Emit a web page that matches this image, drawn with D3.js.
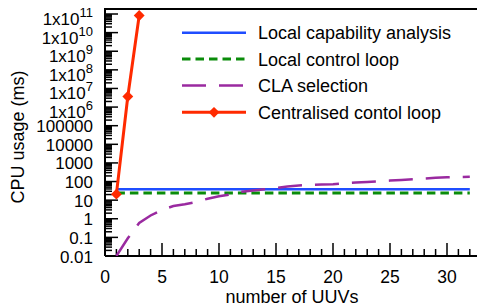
<!DOCTYPE html>
<html><head><meta charset="utf-8">
<script src="https://cdn.jsdelivr.net/npm/d3@7"></script>
<style>body{margin:0;background:#fff}svg{display:block}text{font-family:"Liberation Sans",Arial,sans-serif;fill:#000}</style>
</head><body><svg id="c" width="477" height="307"></svg>
<script>
const uuvs = d3.range(1, 33);
const localCapability = uuvs.map(() => 39);
const localControl = uuvs.map(() => 24);
const claSelection = [0.01,0.09,0.6,1.5,3,4.8,6,8,12,16,20,28,33,38,45,54,62,66,69,72,80,88,95,102,112,122,132,145,158,168,175,180];
const centralisedX = [1, 2, 3];
const centralised = [21, 3.7e6, 8.3e10];
const seriesNames = ["Local capability analysis","Local control loop","CLA selection","Centralised contol loop"];
const xTicks = [0,5,10,15,20,25,30];
const yTickExps = d3.range(-2, 12);
const yTickLabels = ["0.01","0.1","1","10","100","1000","10000","100000","1x10^6","1x10^7","1x10^8","1x10^9","1x10^10","1x10^11"];

const svg = d3.select("#c");
const L = 105, B = 256, T = 9;
const x = d3.scaleLinear().domain([0, 32]).range([L, L + 32*11.4]);
const y = d3.scaleLog().domain([0.01, 1e11]).range([B, 14]);

svg.append("defs").append("clipPath").attr("id","clip").append("rect")
  .attr("x", L).attr("y", T).attr("width", 477-L).attr("height", B-T);

// ticks
const tk = svg.append("g").attr("stroke","#000").attr("stroke-width",1.5);
d3.range(0, 33).forEach(v => {
  const major = v % 5 === 0;
  tk.append("line").attr("x1", x(v)).attr("x2", x(v)).attr("y1", B).attr("y2", B - (major ? 13 : 7));
});
yTickExps.forEach(e => {
  const v = Math.pow(10, e);
  tk.append("line").attr("x1", L).attr("x2", L + 13).attr("y1", y(v)).attr("y2", y(v));
  if (e < 11) for (let m = 2; m <= 9; m++) {
    const yy = y(m * v);
    tk.append("line").attr("x1", L).attr("x2", L + 7).attr("y1", yy).attr("y2", yy);
  }
});

// frame
svg.append("path").attr("d", `M${L},${B}V${T}H480M${L},${B}H480`)
  .attr("fill","none").attr("stroke","#000").attr("stroke-width",2);

// tick labels
xTicks.forEach(v => {
  svg.append("text").attr("x", x(v)).attr("y", 283).attr("text-anchor","middle")
    .attr("font-size", 17.5).text(v);
});
yTickExps.forEach((e, i) => {
  const lab = yTickLabels[i];
  const yy = y(Math.pow(10, e));
  if (lab.includes("^")) {
    const [base, sup] = lab.split("^");
    const t = svg.append("text").attr("x", 93).attr("y", yy + 11).attr("text-anchor","end").attr("font-size", 17);
    t.append("tspan").text(base);
    t.append("tspan").attr("dy", -8).attr("font-size", 13).text(sup);
  } else {
    svg.append("text").attr("x", 93).attr("y", yy + 6.5).attr("text-anchor","end")
      .attr("font-size", 17).text(lab);
  }
});

svg.append("text").attr("transform","translate(24,137) rotate(-90)").attr("text-anchor","middle")
  .attr("font-size", 18).text("CPU usage (ms)");
svg.append("text").attr("x", 292).attr("y", 303).attr("text-anchor","middle")
  .attr("font-size", 18).text("number of UUVs");

// data
const g = svg.append("g").attr("clip-path","url(#clip)");
const line = d3.line().x(d => x(d[0])).y(d => y(d[1]));
const styles = [
  {color:"#1f4dff", width:2.5, dash:null},
  {color:"#0a8c0a", width:3, dash:"8.5,5"},
  {color:"#9a2aa0", width:2.5, dash:"24,13"},
  {color:"#ff2a00", width:3, dash:null}
];
const data = [
  uuvs.map((n,i)=>[n, localCapability[i]]),
  uuvs.map((n,i)=>[n, localControl[i]]),
  uuvs.map((n,i)=>[n, claSelection[i]]),
  centralisedX.map((n,i)=>[n, centralised[i]])
];
data.forEach((d, k) => {
  const s = styles[k];
  g.append("path").datum(d).attr("d", line).attr("fill","none")
    .attr("stroke", s.color).attr("stroke-width", s.width)
    .attr("stroke-dasharray", s.dash);
});
const diamond = d3.symbol().type(d3.symbolDiamond2).size(75);
g.selectAll(".dm").data(data[3]).enter().append("path")
  .attr("transform", d => `translate(${x(d[0])},${y(d[1])})`)
  .attr("d", diamond).attr("fill", styles[3].color);

// legend
const rows = [32.7, 59, 85.5, 112.3];
seriesNames.forEach((name, k) => {
  const s = styles[k];
  svg.append("line").attr("x1", 182).attr("x2", 246).attr("y1", rows[k]).attr("y2", rows[k])
    .attr("stroke", s.color).attr("stroke-width", s.width).attr("stroke-dasharray", s.dash);
  if (k === 3) svg.append("path").attr("transform", `translate(214,${rows[k]})`)
    .attr("d", diamond).attr("fill", s.color);
  svg.append("text").attr("x", 258).attr("y", rows[k] + 6.5).attr("font-size", 18).text(name);
});
</script></body></html>
